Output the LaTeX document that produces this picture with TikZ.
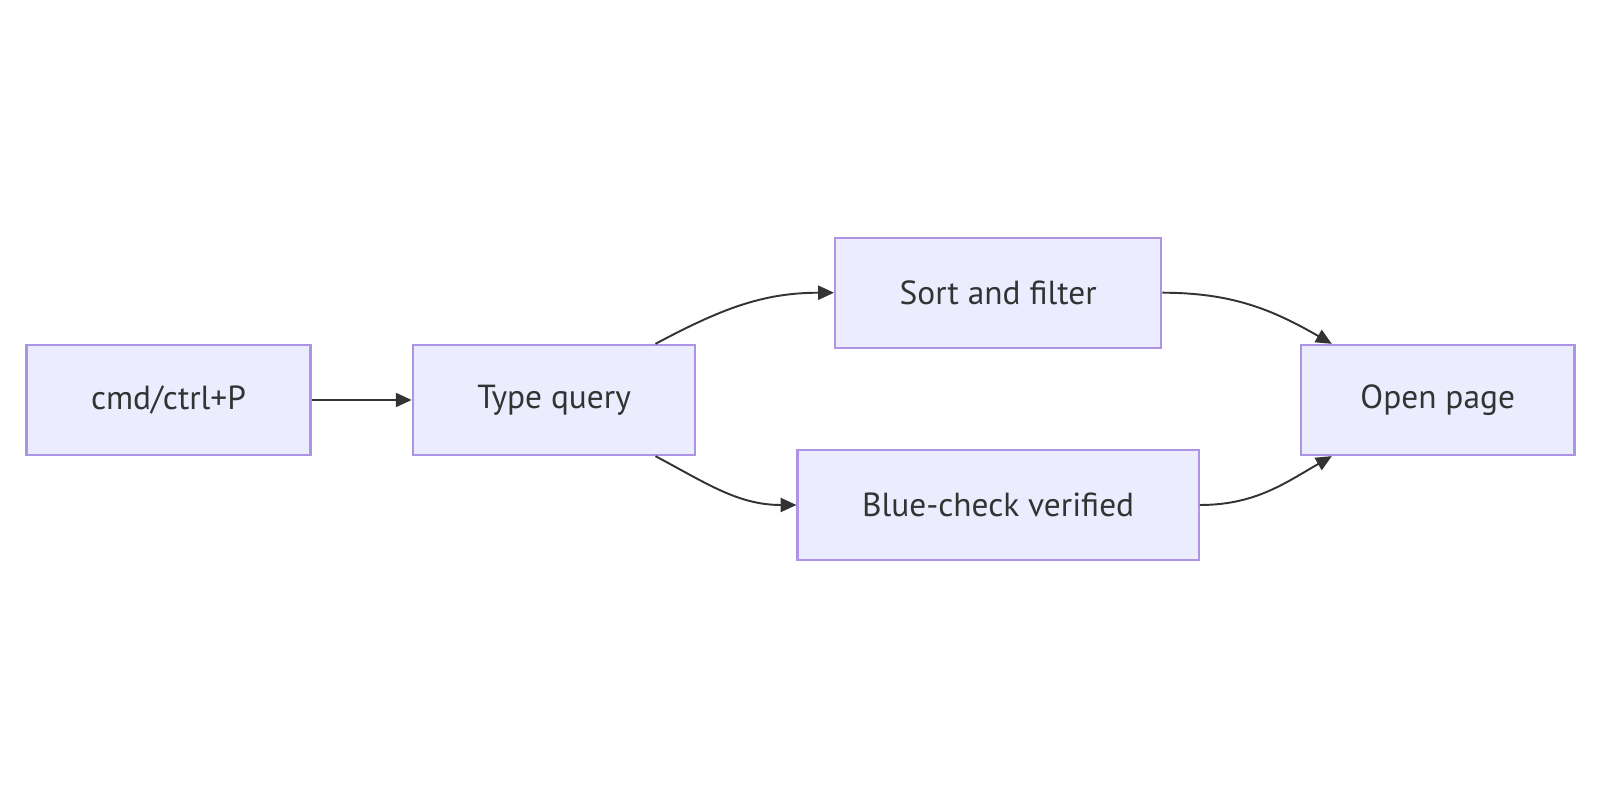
\documentclass[tikz,border=0pt]{standalone}
\usepackage{fontspec}
\setmainfont{PT Sans}
\usepackage{xcolor}
\usepackage{tikz}
\usetikzlibrary{arrows.meta,positioning}
\definecolor{Lavender}{HTML}{ECECFF}
\definecolor{Purple}{HTML}{9370DB}
\definecolor{Ink}{HTML}{333333}

\begin{document}
\begin{tikzpicture}[
    node distance=2cm and 2cm,
    box/.style={draw=Purple!75,fill=Lavender,line width=1.3pt,text=Ink,
      font=\fontsize{19}{23}\selectfont,inner xsep=1.29cm,
      minimum height=2.2cm},
    arrow/.style={-{Triangle[length=9pt,width=8pt]},line width=1.1pt,draw=Ink}
]
\useasboundingbox (-3.37,-8) rectangle (28.63,8);
\node[box] (shortcut) {cmd/ctrl+P};
\node[box,right=of shortcut] (query) {Type query};
\node[box,right=of query,yshift=-2.1cm] (verified) {Blue-check verified};
\node[box,above=of verified] (sort) {Sort and filter};
\node[box,inner xsep=1.19cm,right=of verified,yshift=2.1cm] (open) {Open page};
\draw[arrow] (shortcut)--(query);
\draw[arrow] ([xshift=-0.82cm]query.north east) to[out=28,in=180] (sort.west);
\draw[arrow] ([xshift=-0.82cm]query.south east) to[out=-28,in=180] (verified.west);
\draw[arrow] (sort.east) to[out=0,in=150] ([xshift=0.64cm]open.north west);
\draw[arrow] (verified.east) to[out=0,in=210] ([xshift=0.64cm]open.south west);
\end{tikzpicture}
\end{document}
